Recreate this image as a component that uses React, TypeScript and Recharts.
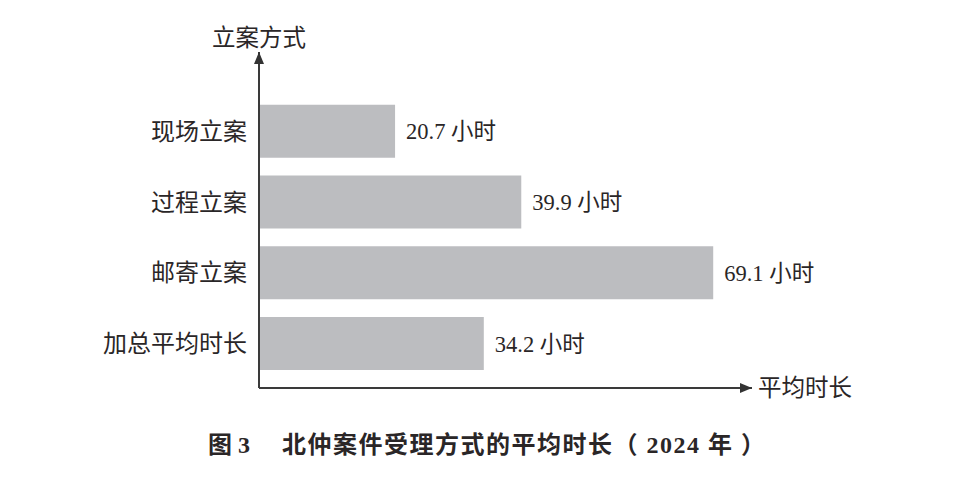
import React from 'react';
import { BarChart, Bar, XAxis, YAxis, LabelList } from 'recharts';

const categories = ['现场立案', '过程立案', '邮寄立案', '加总平均时长'];
const hours = [20.7, 39.9, 69.1, 34.2];
const unit = '小时';
const yAxisTitle = '立案方式';
const xAxisTitle = '平均时长';
const captionNo = '图 3';
const captionText = '北仲案件受理方式的平均时长（ 2024 年 ）';

const data = categories.map((name, i) => ({ name, value: hours[i] }));

const TEXT = '#2a2627';
const FONT = "'Liberation Serif', 'Noto Sans CJK SC', serif";

export default function App() {
  return (
    <div style={{ position: 'absolute', left: 0, top: 0, width: 972, height: 482, background: '#fff', fontFamily: FONT }}>
      <svg width={0} height={0} style={{ position: 'absolute' }}>
        <defs>
          <marker id="arrowEnd" markerUnits="userSpaceOnUse" markerWidth={14} markerHeight={10} refX={12} refY={5} orient="auto">
            <path d="M0,0 L12,5 L0,10 Z" fill="#333" />
          </marker>
          <marker id="arrowStart" markerUnits="userSpaceOnUse" markerWidth={14} markerHeight={10} refX={12} refY={5} orient="auto-start-reverse">
            <path d="M0,0 L12,5 L0,10 Z" fill="#333" />
          </marker>
        </defs>
      </svg>
      <BarChart
        width={972}
        height={482}
        data={data}
        layout="vertical"
        margin={{ top: 52, right: 220, bottom: 64, left: 0 }}
        barCategoryGap="12.5%"
      >
        <XAxis
          type="number"
          domain={[0, 75]}
          tick={false}
          tickLine={false}
          height={30}
          axisLine={{ stroke: '#3a3a3a', strokeWidth: 2, markerEnd: 'url(#arrowEnd)' } as any}
        />
        <YAxis
          type="category"
          dataKey="name"
          width={259}
          padding={{ top: 44, bottom: 9 }}
          tickLine={false}
          tickSize={0}
          tickMargin={12}
          axisLine={{ stroke: '#3a3a3a', strokeWidth: 2, markerStart: 'url(#arrowStart)' } as any}
          tick={{ fill: TEXT, fontSize: 24, fontFamily: FONT }}
        />
        <Bar dataKey="value" fill="#bcbdc0" isAnimationActive={false}>
          <LabelList
            dataKey="value"
            position="right"
            offset={11}
            formatter={(v: any) => `${v} ${unit}`}
            style={{ fill: TEXT, fontSize: 22.5, fontFamily: FONT }}
          />
        </Bar>
      </BarChart>
      <div style={{ position: 'absolute', left: 212, top: 24, fontSize: 23.5, lineHeight: '28px', color: TEXT, whiteSpace: 'nowrap' }}>
        {yAxisTitle}
      </div>
      <div style={{ position: 'absolute', left: 758, top: 374, fontSize: 23.5, lineHeight: '28px', color: TEXT, whiteSpace: 'nowrap' }}>
        {xAxisTitle}
      </div>
      <div style={{ position: 'absolute', left: 208, top: 430, fontSize: 24, lineHeight: '30px', fontWeight: 'bold', color: TEXT, whiteSpace: 'nowrap' }}>
        {captionNo}
      </div>
      <div style={{ position: 'absolute', left: 282, top: 430, fontSize: 24, lineHeight: '30px', letterSpacing: '1.5px', fontWeight: 'bold', color: TEXT, whiteSpace: 'nowrap' }}>
        {captionText}
      </div>
    </div>
  );
}
